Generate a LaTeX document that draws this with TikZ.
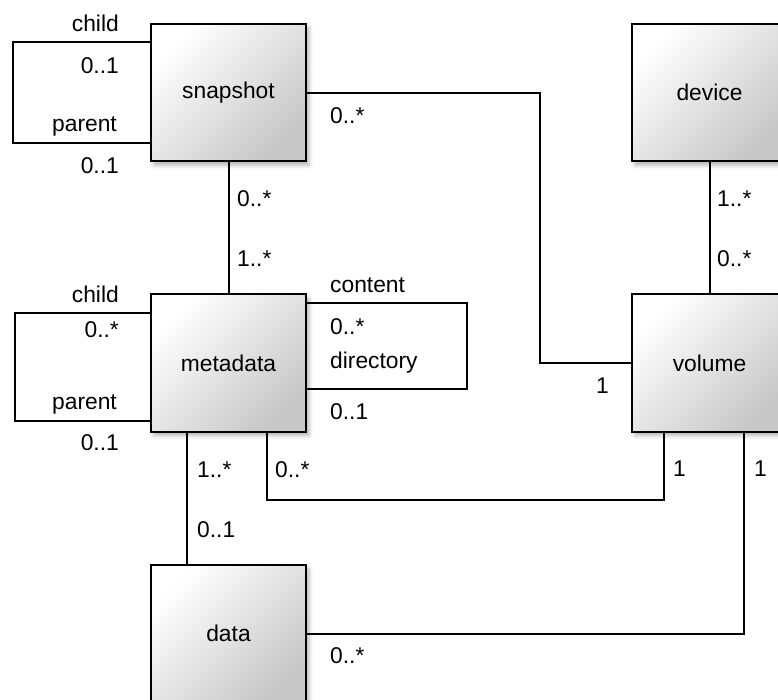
\documentclass[tikz,border=0pt]{standalone}
\usepackage{fontspec}
\setmainfont{Liberation Sans}
\usetikzlibrary{calc,shadows.blur}
\tikzset{
  entity/.style={draw, line width=2.2pt, minimum width=155pt, minimum height=137.5pt,
    top color=white, bottom color=black!22, shading angle=45,
    blur shadow={shadow xshift=3pt, shadow yshift=-4pt, shadow blur radius=4pt, shadow opacity=30}},
  link/.style={line width=2pt},
  mult/.style={inner sep=0pt, anchor=base west},
  multr/.style={inner sep=0pt, anchor=base east}
}
\begin{document}
\begin{tikzpicture}[x=1pt, y=-1pt, font=\fontsize{22.8}{27}\selectfont]
  \useasboundingbox (0,0) rectangle (778,699);
  % entities
  \node [entity] (snap) at (228.5,92.5) {snapshot};
  \node [entity] (dev) at (709.5,92.5) {device};
  \node [entity] (meta) at (228.5,363) {metadata};
  \node [entity] (vol) at (709.5,363) {volume};
  \node [entity] (data) at (228.5,633.5) {data};
  % associations
  \draw [link] ($(snap.north west)+(0,19)$) -- ++(-137,0) |- ($(snap.north west)+(0,120)$);
  \draw [link] ($(meta.north west)+(0,20)$) -- ++(-135,0) |- ($(meta.north west)+(0,128)$);
  \draw [link] ($(meta.north east)+(0,10)$) -- ++(160,0) |- ($(meta.north east)+(0,96)$);
  \draw [link] (snap) -- (meta);
  \draw [link] (dev) -- (vol);
  \draw [link] (snap.east) -- ++(233,0) |- (vol.west);
  \draw [link] ($(meta.south)+(38,0)$) -- ++(0,67) -| ($(vol.south)+(-46,0)$);
  \draw [link] ($(meta.south)+(-41.5,0)$) -- ($(data.north)+(-41.5,0)$);
  \draw [link] ($(vol.south)+(34.5,0)$) |- (data.east);
  % multiplicities and roles
  \node [multr] (sc) at (119,31) {child};
  \node [multr] (scm) at (119,73) {0..1};
  \node [multr] (sp) at (117,131) {parent};
  \node [multr] (spm) at (119,173) {0..1};
  \node [multr] (mc) at (119,302) {child};
  \node [multr] (mcm) at (119,337) {0..*};
  \node [multr] (mp) at (117,409) {parent};
  \node [multr] (mpm) at (119,450) {0..1};
  \node [mult] (mco) at (330,292) {content};
  \node [mult] (mcom) at (330,334) {0..*};
  \node [mult] (mdi) at (330,368) {directory};
  \node [mult] (mdim) at (330,419) {0..1};
  \node [mult] (smA) at (237,206) {0..*};
  \node [mult] (smB) at (237,266) {1..*};
  \node [mult] (dvA) at (717,206) {1..*};
  \node [mult] (dvB) at (717,266) {0..*};
  \node [mult] (svA) at (330,123) {0..*};
  \node [mult] (svB) at (596,393) {1};
  \node [mult] (mdA) at (197,477) {1..*};
  \node [mult] (mdB) at (197,537) {0..1};
  \node [mult] (mvA) at (275,477) {0..*};
  \node [mult] (mvB) at (673,476) {1};
  \node [mult] (vdA) at (754,476) {1};
  \node [mult] (vdB) at (330,663) {0..*};
\end{tikzpicture}
\end{document}
